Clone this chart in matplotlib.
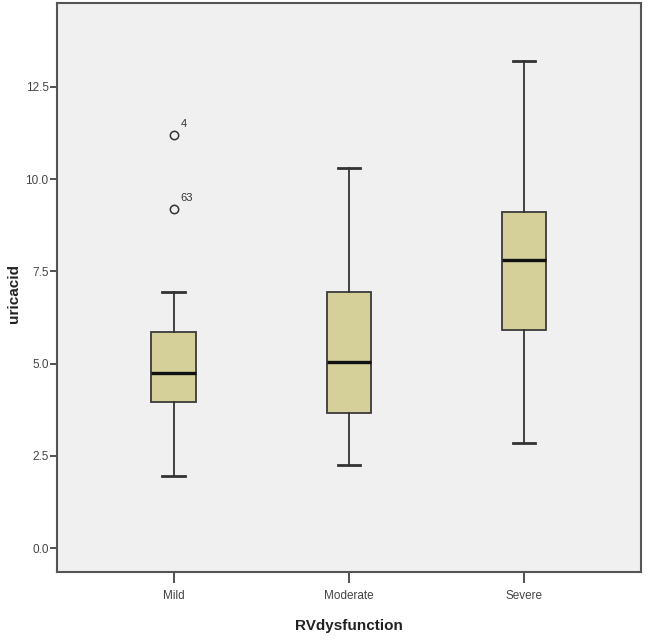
import matplotlib
matplotlib.use("Agg")
import matplotlib.pyplot as plt

categories = ["Mild", "Moderate", "Severe"]
whislo = [1.95, 2.25, 2.85]
q1 = [3.95, 3.65, 5.9]
median = [4.75, 5.05, 7.8]
q3 = [5.85, 6.95, 9.1]
whishi = [6.95, 10.3, 13.2]
outlier_values = [[11.2, 9.2], [], []]
outlier_labels = [["4", "63"], [], []]
y_ticks = [0.0, 2.5, 5.0, 7.5, 10.0, 12.5]

plt.rcParams['font.family'] = ['Liberation Sans', 'DejaVu Sans']

fig = plt.figure(figsize=(6.5, 6.41), dpi=100, facecolor="white")
ax = fig.add_axes([0.0877, 0.1076, 0.8983, 0.8877])
ax.set_facecolor("#f0f0f0")

stats = []
for i, c in enumerate(categories):
    stats.append(dict(label=c, whislo=whislo[i], q1=q1[i], med=median[i],
                      q3=q3[i], whishi=whishi[i], fliers=outlier_values[i]))

positions = [1, 2, 3]
ax.bxp(stats, positions=positions, widths=0.255, patch_artist=True,
       boxprops=dict(facecolor="#d5cf9a", edgecolor="#3a3a3a", linewidth=1.3),
       medianprops=dict(color="#111111", linewidth=2.4),
       whiskerprops=dict(color="#333333", linewidth=1.3),
       capprops=dict(color="#333333", linewidth=2.0),
       capwidths=0.13,
       flierprops=dict(marker="o", markerfacecolor="none", markeredgecolor="#333333",
                       markersize=6, markeredgewidth=1.1, linestyle="none"))

for i, vals in enumerate(outlier_values):
    for v, lab in zip(vals, outlier_labels[i]):
        ax.annotate(lab, xy=(positions[i], v), xytext=(5, 4), textcoords="offset points",
                    fontsize=8, color="#333333", ha="left", va="bottom")

ax.set_xlim(0.333, 3.667)
ax.set_ylim(-0.65, 14.77)
ax.set_yticks(y_ticks)
ax.set_yticklabels([f"{t:.1f}" for t in y_ticks])
ax.set_xticks(positions)
ax.set_xticklabels(categories)

ax.tick_params(axis="y", length=5, width=1.2, color="#333333", labelsize=8.5,
               labelcolor="#444444", pad=1)
ax.tick_params(axis="x", length=8, width=1.2, color="#333333", labelsize=8.5,
               labelcolor="#444444", pad=5)
for s in ax.spines.values():
    s.set_color("#555555")
    s.set_linewidth(1.5)

ax.set_ylabel("uricacid", fontsize=11, fontweight="bold", color="#222222")
ax.yaxis.set_label_coords(-0.0625, 0.49)
ax.set_xlabel("RVdysfunction", fontsize=11, fontweight="bold", color="#222222", labelpad=12)

fig.savefig("out.png", dpi=100, facecolor="white")
